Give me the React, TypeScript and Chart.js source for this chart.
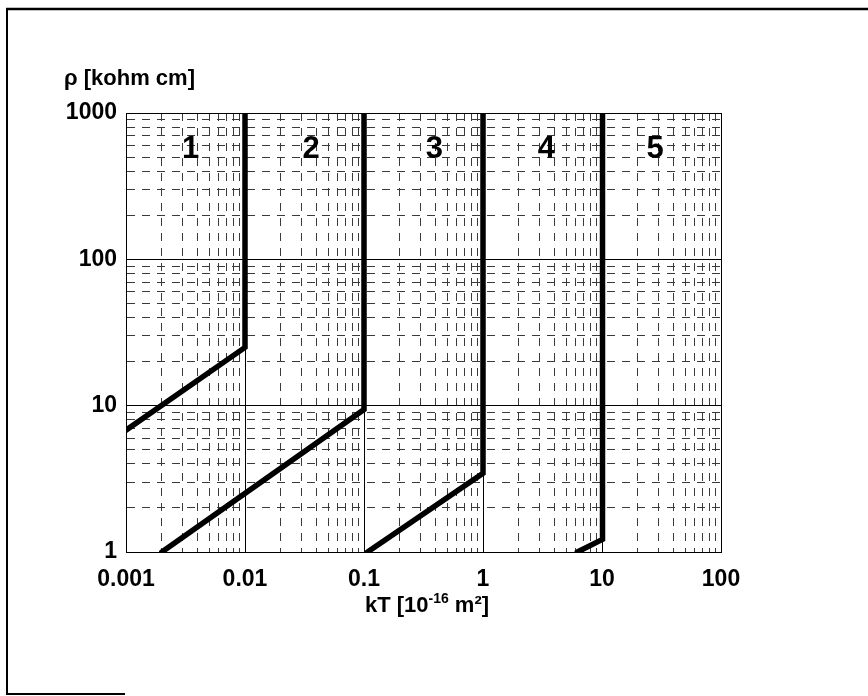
import React, { useEffect, useRef } from 'react';
import { Chart, registerables } from 'chart.js';

Chart.register(...registerables);

// Axis ticks (log scales)
const xTickValues = [0.001, 0.01, 0.1, 1, 10, 100];
const xTickLabels = ['0.001', '0.01', '0.1', '1', '10', '100'];
const yTickValues = [1, 10, 100, 1000];
const yTickLabels = ['1', '10', '100', '1000'];
const minorMultipliers = [1, 2, 3, 4, 5, 6, 7, 8, 9];

// Boundary curves (kT, rho)
const curve1X = [0.001, 0.01, 0.01];
const curve1Y = [6.8, 25, 1000];
const curve2X = [0.002, 0.1, 0.1];
const curve2Y = [1, 9.4, 1000];
const curve3X = [0.107, 1, 1];
const curve3Y = [1, 3.45, 1000];
const curve4X = [6.2, 10.1, 10.1];
const curve4Y = [1, 1.22, 1000];

// Zone numbers
const zoneLabels = ['1', '2', '3', '4', '5'];
const zoneLabelX = [0.0035, 0.036, 0.39, 3.4, 28];
const zoneLabelY = 560;

const yAxisTitle = 'ρ [kohm cm]';
const xAxisTitleMain = 'kT [10';
const xAxisTitleSup = '-16';
const xAxisTitleEnd = ' m²]';

const FONT = '"Liberation Sans", Arial, Helvetica, sans-serif';

const gridValues = (decades: number[]) => {
  const out: number[] = [];
  for (let i = 0; i < decades.length - 1; i++) {
    minorMultipliers.forEach((m) => out.push(+(m * decades[i]).toPrecision(6)));
  }
  out.push(decades[decades.length - 1]);
  return out;
};

const isDecade = (v: number) => {
  const l = Math.log10(v);
  return Math.abs(l - Math.round(l)) < 1e-9;
};

const labelFor = (values: number[], labels: string[], v: number) => {
  const i = values.findIndex((d) => Math.abs(d - v) / d < 1e-9);
  return i >= 0 ? labels[i] : '';
};

const toPoints = (xs: number[], ys: number[]) => xs.map((x, i) => ({ x, y: ys[i] }));

const decorPlugin = {
  id: 'decor',
  afterDraw(chart: any) {
    const ctx = chart.ctx as CanvasRenderingContext2D;
    const xs = chart.scales.x;
    const ys = chart.scales.y;
    ctx.save();
    // scanned frame
    ctx.strokeStyle = '#000';
    ctx.lineWidth = 2.5;
    ctx.beginPath();
    ctx.moveTo(6, 9);
    ctx.lineTo(868, 9);
    ctx.stroke();
    ctx.lineWidth = 2;
    ctx.beginPath();
    ctx.moveTo(7, 8);
    ctx.lineTo(7, 695);
    ctx.moveTo(6, 694);
    ctx.lineTo(125, 694);
    ctx.stroke();

    // zone numbers
    ctx.fillStyle = '#000';
    ctx.font = `bold 31px ${FONT}`;
    ctx.textAlign = 'center';
    ctx.textBaseline = 'middle';
    zoneLabels.forEach((t, i) => {
      ctx.fillText(t, xs.getPixelForValue(zoneLabelX[i]), ys.getPixelForValue(zoneLabelY));
    });

    // y title
    ctx.font = `bold 22px ${FONT}`;
    ctx.textAlign = 'left';
    ctx.textBaseline = 'alphabetic';
    ctx.fillText(yAxisTitle, 64, 85);

    // x title with superscript
    const mainFont = `bold 22px ${FONT}`;
    const supFont = `bold 14px ${FONT}`;
    ctx.font = mainFont;
    const w1 = ctx.measureText(xAxisTitleMain).width;
    const w3 = ctx.measureText(xAxisTitleEnd).width;
    ctx.font = supFont;
    const w2 = ctx.measureText(xAxisTitleSup).width;
    const total = w1 + w2 + w3;
    const cx = 427;
    let x0 = cx - total / 2;
    const base = 612;
    ctx.font = mainFont;
    ctx.fillText(xAxisTitleMain, x0, base);
    x0 += w1;
    ctx.font = supFont;
    ctx.fillText(xAxisTitleSup, x0, base - 9);
    x0 += w2;
    ctx.font = mainFont;
    ctx.fillText(xAxisTitleEnd, x0, base);
    ctx.restore();
  },
};

export default function App() {
  const ref = useRef<HTMLCanvasElement | null>(null);

  useEffect(() => {
    if (!ref.current) return;
    const lineStyle = {
      borderColor: '#000',
      backgroundColor: '#000',
      borderWidth: 5.5,
      pointRadius: 0,
      borderCapStyle: 'round' as const,
      borderJoinStyle: 'miter' as const,
      tension: 0,
      fill: false,
    };
    const xGrid = gridValues(xTickValues);
    const yGrid = gridValues(yTickValues);
    const gridColor = (c: any) => (c.tick && isDecade(c.tick.value) ? '#000' : '#3a3a3a');
    const gridDash = (c: any) => (c.tick && !isDecade(c.tick.value) ? [8, 7] : []);

    const chart = new Chart(ref.current, {
      type: 'line',
      data: {
        datasets: [
          { ...lineStyle, label: '1', data: toPoints(curve1X, curve1Y) },
          { ...lineStyle, label: '2', data: toPoints(curve2X, curve2Y) },
          { ...lineStyle, label: '3', data: toPoints(curve3X, curve3Y) },
          { ...lineStyle, label: '4', data: toPoints(curve4X, curve4Y) },
        ],
      },
      options: {
        animation: false,
        responsive: false,
        maintainAspectRatio: false,
        parsing: { xAxisKey: 'x', yAxisKey: 'y' } as any,
        layout: { padding: { top: 113, right: 147, left: 0, bottom: 0 } },
        plugins: {
          legend: { display: false },
          tooltip: { enabled: false },
          title: { display: false },
        },
        scales: {
          x: {
            type: 'logarithmic',
            min: 0.001,
            max: 100,
            afterBuildTicks: (axis: any) => {
              axis.ticks = xGrid.map((v) => ({ value: v, major: isDecade(v) }));
            },
            afterFit: (axis: any) => {
              axis.height = 144;
            },
            grid: {
              color: gridColor,
              lineWidth: 1,
              drawTicks: false,
            },
            border: { display: true, color: '#000', width: 1, dash: gridDash },
            ticks: {
              autoSkip: false,
              maxRotation: 0,
              minRotation: 0,
              padding: 14,
              color: '#000',
              font: { family: FONT, size: 23, weight: 'bold' },
              callback: (v: any) => labelFor(xTickValues, xTickLabels, Number(v)),
            },
          },
          y: {
            type: 'logarithmic',
            min: 1,
            max: 1000,
            afterBuildTicks: (axis: any) => {
              axis.ticks = yGrid.map((v) => ({ value: v, major: isDecade(v) }));
            },
            afterFit: (axis: any) => {
              axis.width = 126;
            },
            grid: {
              color: gridColor,
              lineWidth: 1,
              drawTicks: false,
            },
            border: { display: true, color: '#000', width: 1, dash: gridDash },
            ticks: {
              autoSkip: false,
              padding: 9,
              color: '#000',
              font: { family: FONT, size: 23, weight: 'bold' },
              callback: (v: any) => labelFor(yTickValues, yTickLabels, Number(v)),
            },
          },
        },
      } as any,
      plugins: [decorPlugin],
    });
    return () => chart.destroy();
  }, []);

  return (
    <div style={{ position: 'absolute', left: 0, top: 0, width: 868, height: 696, background: '#fff' }}>
      <canvas ref={ref} width={868} height={696} style={{ display: 'block', width: 868, height: 696 }} />
    </div>
  );
}
